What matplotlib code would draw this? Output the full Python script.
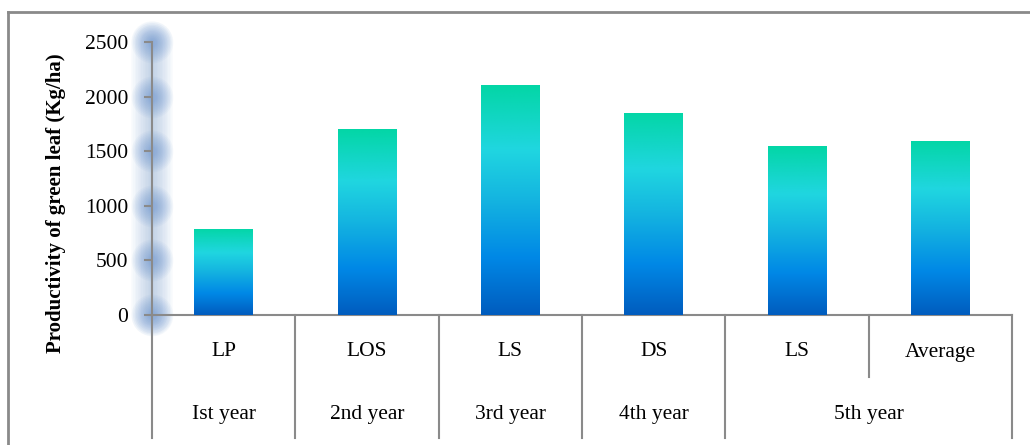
import numpy as np
import matplotlib
matplotlib.use("Agg")
import matplotlib.pyplot as plt
from matplotlib.colors import LinearSegmentedColormap
from matplotlib.lines import Line2D
import matplotlib.transforms as mtransforms

# ---- data ----
treatments = ["LP", "LOS", "LS", "DS", "LS", "Average"]
years = ["Ist year", "2nd year", "3rd year", "4th year", "5th year"]
year_spans = [1, 1, 1, 1, 2]   # number of treatment columns each year covers
productivity = [790, 1700, 2105, 1850, 1545, 1595]
yticks = [0, 500, 1000, 1500, 2000, 2500]

plt.rcParams['font.family'] = ['Liberation Serif', 'DejaVu Serif']

fig = plt.figure(figsize=(10.3, 4.45), dpi=100)
W, H = 1030, 445
ax = fig.add_axes([152 / W, 1 - 315 / H, (1012 - 152) / W, (315 - 42) / H])

x = np.arange(len(treatments))
bars = ax.bar(x, productivity, width=0.41, color="none", edgecolor="none", zorder=3)

cmap = LinearSegmentedColormap.from_list(
    "grad", [(0.0, "#005CBE"), (0.25, "#0088E6"), (0.5, "#14B4E0"),
             (0.72, "#20D6E0"), (1.0, "#03D6A6")])
grad = np.linspace(0, 1, 256).reshape(-1, 1)
for b in bars:
    x0, w, h = b.get_x(), b.get_width(), b.get_height()
    im = ax.imshow(grad, cmap=cmap, origin="lower", aspect="auto",
                   extent=(x0, x0 + w, 0, h), zorder=3)
    im.set_clip_path(b)

ax.set_xlim(-0.5, len(treatments) - 0.5)
ax.set_ylim(0, 2500)
ax.set_yticks(yticks)
ax.set_yticklabels([str(t) for t in yticks], fontsize=15.5)
ax.set_xticks([])
for s in ["top", "right"]:
    ax.spines[s].set_visible(False)
for s in ["left", "bottom"]:
    ax.spines[s].set_color("#8a8a8a")
    ax.spines[s].set_linewidth(1.5)
ax.tick_params(axis="y", direction="out", length=6, width=1.5, color="#8a8a8a",
               pad=11, labelcolor="black")
ax.set_ylabel("Productivity of green leaf (Kg/ha)", fontsize=15,
              fontweight="bold")
ax.yaxis.set_label_coords((66 - 152) / 860, (315 - 203) / 273)

# soft glow around the y axis
for lw in np.linspace(30, 4, 12):
    ax.plot([-0.5, -0.5], [0, 2500], color="#6A94CE", lw=lw, alpha=0.035,
            solid_capstyle="round", clip_on=False, zorder=1)
for ms in np.linspace(30, 6, 12):
    ax.plot([-0.5] * len(yticks), yticks, "o", ms=ms, color="#5C8ACC", alpha=0.05,
            mec="none", clip_on=False, zorder=1)

# multi-level category axis
tr = mtransforms.blended_transform_factory(ax.transData, ax.transAxes)
ypx = lambda p: (315 - p) / 273.0
line_kw = dict(color="#8a8a8a", lw=1.5, transform=tr, clip_on=False)
bounds = np.cumsum([0] + year_spans) - 0.5
for b in bounds:
    ax.add_line(Line2D([b, b], [0, ypx(438)], **line_kw))
for b in np.arange(-0.5, len(treatments) - 0.4, 1.0):
    if b not in bounds:
        ax.add_line(Line2D([b, b], [0, ypx(377)], **line_kw))
for i, t in enumerate(treatments):
    ax.text(i, ypx(352), t, ha="center", va="center", fontsize=15.5, transform=tr)
for i, yname in enumerate(years):
    c = (bounds[i] + bounds[i + 1]) / 2
    ax.text(c, ypx(414), yname, ha="center", va="center", fontsize=15.5, transform=tr)

# outer chart border (top and left visible)
fig.add_artist(Line2D([8 / W, 1.0], [1 - 12 / H, 1 - 12 / H], color="#8a8a8a",
                      lw=2, transform=fig.transFigure))
fig.add_artist(Line2D([8 / W, 8 / W], [0, 1 - 12 / H], color="#8a8a8a",
                      lw=2, transform=fig.transFigure))

fig.savefig("out.png", dpi=100)
